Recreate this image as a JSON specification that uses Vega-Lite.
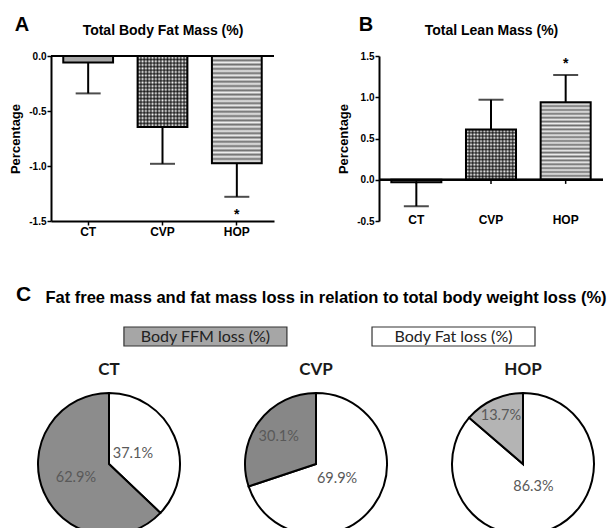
{
"$schema":"https://vega.github.io/schema/vega-lite/v6.json",
"background":"white",
"padding":{"left":9,"top":15,"right":0,"bottom":0},
"config":{
 "view":{"stroke":null},
 "font":"Liberation Sans",
 "axis":{"grid":false,"domainColor":"#000","domainWidth":2,"tickColor":"#000","tickWidth":1.5,"tickSize":4,"labelColor":"#000","labelFont":"Liberation Sans","labelFontWeight":"bold","labelFontSize":10,"labelPadding":1,"titleFont":"Liberation Sans","titleFontWeight":"bold","titleColor":"#000","titleFontSize":13,"labelFlush":false,"labelOverlap":false},
 "title":{"color":"#000","font":"Liberation Sans","fontWeight":"bold"}
},
"datasets":{
 "fat":[{"g":"CT","m":-0.06,"e":-0.34,"sig":""},{"g":"CVP","m":-0.645,"e":-0.98,"sig":""},{"g":"HOP","m":-0.975,"e":-1.28,"sig":"*"}],
 "lean":[{"g":"CT","m":-0.03,"e":-0.32,"sig":""},{"g":"CVP","m":0.61,"e":0.97,"sig":""},{"g":"HOP","m":0.94,"e":1.27,"sig":"*"}],
 "legend":[{"k":"FFM","name":"Body FFM loss (%)"},{"k":"Fat","name":"Body Fat loss (%)"}],
 "pies":[{"g":"CT","part":"Fat","v":37.1,"lab":"37.1%"},{"g":"CT","part":"FFM","v":62.9,"lab":"62.9%"},{"g":"CVP","part":"Fat","v":69.9,"lab":"69.9%"},{"g":"CVP","part":"FFM","v":30.1,"lab":"30.1%"},{"g":"HOP","part":"Fat","v":86.3,"lab":"86.3%"},{"g":"HOP","part":"FFM","v":13.7,"lab":"13.7%"}]
},
"resolve":{"scale":{"x":"independent","y":"independent","fill":"independent","theta":"independent","radius":"independent"}},
"spacing":47,
"vconcat":[
{"hconcat":[
 {"width":223,"height":165,"data":{"name":"fat"},
  "title":{"text":"A","anchor":"start","frame":"bounds","fontSize":20,"dx":5,"dy":16},
  "resolve":{"axis":{"x":"independent"}},
  "layer":[
   {"mark":{"type":"bar","fill":"#a8a8a8","stroke":"#000","strokeWidth":2},"transform":[{"filter":"datum.g==='CT'"}],
    "encoding":{"x":{"field":"g","type":"nominal","sort":["CT","CVP","HOP"],"scale":{"paddingInner":0.33,"paddingOuter":0.165},"axis":{"title":null,"labelAngle":0,"labelFontSize":12,"labelPadding":1}},
     "y":{"field":"m","type":"quantitative","scale":{"domain":[-1.5,0],"nice":false},"axis":{"title":"Percentage","values":[-1.5,-1,-0.5,0],"labelExpr":"replace(format(datum.value,'.1f'),'\u2212','-')","titlePadding":6}}}},
   {"mark":{"type":"bar","fill":"#ffffff"},"transform":[{"filter":"datum.g==='CVP'"}],
    "encoding":{"x":{"field":"g","type":"nominal","sort":["CT","CVP","HOP"],"axis":null},"y":{"field":"m","type":"quantitative"}}},
   {"mark":{"type":"bar","fill":{"gradient":"linear","x1":0,"y1":0,"x2":0,"y2":1,"stops":[{"offset":0,"color":"rgba(0,0,0,0.7)"},{"offset":0.025,"color":"rgba(0,0,0,0)"},{"offset":0.05,"color":"rgba(0,0,0,0.7)"},{"offset":0.075,"color":"rgba(0,0,0,0)"},{"offset":0.1,"color":"rgba(0,0,0,0.7)"},{"offset":0.125,"color":"rgba(0,0,0,0)"},{"offset":0.15,"color":"rgba(0,0,0,0.7)"},{"offset":0.175,"color":"rgba(0,0,0,0)"},{"offset":0.2,"color":"rgba(0,0,0,0.7)"},{"offset":0.225,"color":"rgba(0,0,0,0)"},{"offset":0.25,"color":"rgba(0,0,0,0.7)"},{"offset":0.275,"color":"rgba(0,0,0,0)"},{"offset":0.3,"color":"rgba(0,0,0,0.7)"},{"offset":0.325,"color":"rgba(0,0,0,0)"},{"offset":0.35,"color":"rgba(0,0,0,0.7)"},{"offset":0.375,"color":"rgba(0,0,0,0)"},{"offset":0.4,"color":"rgba(0,0,0,0.7)"},{"offset":0.425,"color":"rgba(0,0,0,0)"},{"offset":0.45,"color":"rgba(0,0,0,0.7)"},{"offset":0.475,"color":"rgba(0,0,0,0)"},{"offset":0.5,"color":"rgba(0,0,0,0.7)"},{"offset":0.525,"color":"rgba(0,0,0,0)"},{"offset":0.55,"color":"rgba(0,0,0,0.7)"},{"offset":0.575,"color":"rgba(0,0,0,0)"},{"offset":0.6,"color":"rgba(0,0,0,0.7)"},{"offset":0.625,"color":"rgba(0,0,0,0)"},{"offset":0.65,"color":"rgba(0,0,0,0.7)"},{"offset":0.675,"color":"rgba(0,0,0,0)"},{"offset":0.7,"color":"rgba(0,0,0,0.7)"},{"offset":0.725,"color":"rgba(0,0,0,0)"},{"offset":0.75,"color":"rgba(0,0,0,0.7)"},{"offset":0.775,"color":"rgba(0,0,0,0)"},{"offset":0.8,"color":"rgba(0,0,0,0.7)"},{"offset":0.825,"color":"rgba(0,0,0,0)"},{"offset":0.85,"color":"rgba(0,0,0,0.7)"},{"offset":0.875,"color":"rgba(0,0,0,0)"},{"offset":0.9,"color":"rgba(0,0,0,0.7)"},{"offset":0.925,"color":"rgba(0,0,0,0)"},{"offset":0.95,"color":"rgba(0,0,0,0.7)"},{"offset":0.975,"color":"rgba(0,0,0,0)"},{"offset":1,"color":"rgba(0,0,0,0.7)"}]}},
    "transform":[{"filter":"datum.g==='CVP'"}],
    "encoding":{"x":{"field":"g","type":"nominal","sort":["CT","CVP","HOP"],"axis":null},"y":{"field":"m","type":"quantitative"}}},
   {"mark":{"type":"bar","stroke":"#000","strokeWidth":2,"fill":{"gradient":"linear","x1":0,"y1":0,"x2":1,"y2":0,"stops":[{"offset":0,"color":"rgba(0,0,0,0.7)"},{"offset":0.0333,"color":"rgba(0,0,0,0)"},{"offset":0.0667,"color":"rgba(0,0,0,0.7)"},{"offset":0.1,"color":"rgba(0,0,0,0)"},{"offset":0.1333,"color":"rgba(0,0,0,0.7)"},{"offset":0.1667,"color":"rgba(0,0,0,0)"},{"offset":0.2,"color":"rgba(0,0,0,0.7)"},{"offset":0.2333,"color":"rgba(0,0,0,0)"},{"offset":0.2667,"color":"rgba(0,0,0,0.7)"},{"offset":0.3,"color":"rgba(0,0,0,0)"},{"offset":0.3333,"color":"rgba(0,0,0,0.7)"},{"offset":0.3667,"color":"rgba(0,0,0,0)"},{"offset":0.4,"color":"rgba(0,0,0,0.7)"},{"offset":0.4333,"color":"rgba(0,0,0,0)"},{"offset":0.4667,"color":"rgba(0,0,0,0.7)"},{"offset":0.5,"color":"rgba(0,0,0,0)"},{"offset":0.5333,"color":"rgba(0,0,0,0.7)"},{"offset":0.5667,"color":"rgba(0,0,0,0)"},{"offset":0.6,"color":"rgba(0,0,0,0.7)"},{"offset":0.6333,"color":"rgba(0,0,0,0)"},{"offset":0.6667,"color":"rgba(0,0,0,0.7)"},{"offset":0.7,"color":"rgba(0,0,0,0)"},{"offset":0.7333,"color":"rgba(0,0,0,0.7)"},{"offset":0.7667,"color":"rgba(0,0,0,0)"},{"offset":0.8,"color":"rgba(0,0,0,0.7)"},{"offset":0.8333,"color":"rgba(0,0,0,0)"},{"offset":0.8667,"color":"rgba(0,0,0,0.7)"},{"offset":0.9,"color":"rgba(0,0,0,0)"},{"offset":0.9333,"color":"rgba(0,0,0,0.7)"},{"offset":0.9667,"color":"rgba(0,0,0,0)"},{"offset":1,"color":"rgba(0,0,0,0.7)"}]}},
    "transform":[{"filter":"datum.g==='CVP'"}],
    "encoding":{"x":{"field":"g","type":"nominal","sort":["CT","CVP","HOP"],"axis":null},"y":{"field":"m","type":"quantitative"}}},
   {"mark":{"type":"bar","stroke":"#000","strokeWidth":2,"fill":{"gradient":"linear","x1":0,"y1":0,"x2":0,"y2":1,"stops":[{"offset":0,"color":"#6e6e6e"},{"offset":0.02,"color":"#eeeeee"},{"offset":0.04,"color":"#6e6e6e"},{"offset":0.06,"color":"#eeeeee"},{"offset":0.08,"color":"#6e6e6e"},{"offset":0.1,"color":"#eeeeee"},{"offset":0.12,"color":"#6e6e6e"},{"offset":0.14,"color":"#eeeeee"},{"offset":0.16,"color":"#6e6e6e"},{"offset":0.18,"color":"#eeeeee"},{"offset":0.2,"color":"#6e6e6e"},{"offset":0.22,"color":"#eeeeee"},{"offset":0.24,"color":"#6e6e6e"},{"offset":0.26,"color":"#eeeeee"},{"offset":0.28,"color":"#6e6e6e"},{"offset":0.3,"color":"#eeeeee"},{"offset":0.32,"color":"#6e6e6e"},{"offset":0.34,"color":"#eeeeee"},{"offset":0.36,"color":"#6e6e6e"},{"offset":0.38,"color":"#eeeeee"},{"offset":0.4,"color":"#6e6e6e"},{"offset":0.42,"color":"#eeeeee"},{"offset":0.44,"color":"#6e6e6e"},{"offset":0.46,"color":"#eeeeee"},{"offset":0.48,"color":"#6e6e6e"},{"offset":0.5,"color":"#eeeeee"},{"offset":0.52,"color":"#6e6e6e"},{"offset":0.54,"color":"#eeeeee"},{"offset":0.56,"color":"#6e6e6e"},{"offset":0.58,"color":"#eeeeee"},{"offset":0.6,"color":"#6e6e6e"},{"offset":0.62,"color":"#eeeeee"},{"offset":0.64,"color":"#6e6e6e"},{"offset":0.66,"color":"#eeeeee"},{"offset":0.68,"color":"#6e6e6e"},{"offset":0.7,"color":"#eeeeee"},{"offset":0.72,"color":"#6e6e6e"},{"offset":0.74,"color":"#eeeeee"},{"offset":0.76,"color":"#6e6e6e"},{"offset":0.78,"color":"#eeeeee"},{"offset":0.8,"color":"#6e6e6e"},{"offset":0.82,"color":"#eeeeee"},{"offset":0.84,"color":"#6e6e6e"},{"offset":0.86,"color":"#eeeeee"},{"offset":0.88,"color":"#6e6e6e"},{"offset":0.9,"color":"#eeeeee"},{"offset":0.92,"color":"#6e6e6e"},{"offset":0.94,"color":"#eeeeee"},{"offset":0.96,"color":"#6e6e6e"},{"offset":0.98,"color":"#eeeeee"},{"offset":1,"color":"#6e6e6e"}]}},
    "transform":[{"filter":"datum.g==='HOP'"}],
    "encoding":{"x":{"field":"g","type":"nominal","sort":["CT","CVP","HOP"],"axis":null},"y":{"field":"m","type":"quantitative"}}},
   {"mark":{"type":"rule","color":"#000","strokeWidth":2},
    "encoding":{"x":{"field":"g","type":"nominal","sort":["CT","CVP","HOP"],"axis":{"orient":"top","title":"Total Body Fat Mass (%)","labels":false,"ticks":false,"domain":false,"titleFontSize":14,"titlePadding":19}},"y":{"field":"m","type":"quantitative"},"y2":{"field":"e"}}},
   {"mark":{"type":"tick","orient":"horizontal","color":"#000","thickness":2,"size":25},
    "encoding":{"x":{"field":"g","type":"nominal","sort":["CT","CVP","HOP"],"axis":null},"y":{"field":"e","type":"quantitative"}}},
   {"mark":{"type":"text","font":"Liberation Sans","fontWeight":"bold","fontSize":14,"baseline":"alphabetic","dy":22,"color":"#000"},
    "encoding":{"x":{"field":"g","type":"nominal","sort":["CT","CVP","HOP"],"axis":null},"y":{"field":"e","type":"quantitative"},"text":{"field":"sig"}}},
   {"mark":{"type":"rule","color":"#000","strokeWidth":2},"encoding":{"y":{"datum":0,"type":"quantitative"}}}
  ]},
 {"width":224,"height":165,"data":{"name":"lean"},
  "title":{"text":"B","anchor":"start","frame":"bounds","fontSize":20,"dx":21,"dy":16},
  "resolve":{"axis":{"x":"independent"}},
  "layer":[
   {"mark":{"type":"bar","fill":"#a8a8a8","stroke":"#000","strokeWidth":2},"transform":[{"filter":"datum.g==='CT'"}],
    "encoding":{"x":{"field":"g","type":"nominal","sort":["CT","CVP","HOP"],"scale":{"paddingInner":0.33,"paddingOuter":0.165},"axis":{"title":null,"labelAngle":0,"labelFontSize":12,"domain":false,"ticks":false,"tickSize":0,"labelPadding":-7}},
     "y":{"field":"m","type":"quantitative","scale":{"domain":[-0.5,1.5],"nice":false},"axis":{"title":"Percentage","values":[-0.5,0,0.5,1,1.5],"labelExpr":"replace(format(datum.value,'.1f'),'\u2212','-')","titlePadding":6}}}},
   {"mark":{"type":"bar","fill":"#ffffff"},"transform":[{"filter":"datum.g==='CVP'"}],
    "encoding":{"x":{"field":"g","type":"nominal","sort":["CT","CVP","HOP"],"axis":null},"y":{"field":"m","type":"quantitative"}}},
   {"mark":{"type":"bar","fill":{"gradient":"linear","x1":0,"y1":0,"x2":0,"y2":1,"stops":[{"offset":0,"color":"rgba(0,0,0,0.7)"},{"offset":0.0333,"color":"rgba(0,0,0,0)"},{"offset":0.0667,"color":"rgba(0,0,0,0.7)"},{"offset":0.1,"color":"rgba(0,0,0,0)"},{"offset":0.1333,"color":"rgba(0,0,0,0.7)"},{"offset":0.1667,"color":"rgba(0,0,0,0)"},{"offset":0.2,"color":"rgba(0,0,0,0.7)"},{"offset":0.2333,"color":"rgba(0,0,0,0)"},{"offset":0.2667,"color":"rgba(0,0,0,0.7)"},{"offset":0.3,"color":"rgba(0,0,0,0)"},{"offset":0.3333,"color":"rgba(0,0,0,0.7)"},{"offset":0.3667,"color":"rgba(0,0,0,0)"},{"offset":0.4,"color":"rgba(0,0,0,0.7)"},{"offset":0.4333,"color":"rgba(0,0,0,0)"},{"offset":0.4667,"color":"rgba(0,0,0,0.7)"},{"offset":0.5,"color":"rgba(0,0,0,0)"},{"offset":0.5333,"color":"rgba(0,0,0,0.7)"},{"offset":0.5667,"color":"rgba(0,0,0,0)"},{"offset":0.6,"color":"rgba(0,0,0,0.7)"},{"offset":0.6333,"color":"rgba(0,0,0,0)"},{"offset":0.6667,"color":"rgba(0,0,0,0.7)"},{"offset":0.7,"color":"rgba(0,0,0,0)"},{"offset":0.7333,"color":"rgba(0,0,0,0.7)"},{"offset":0.7667,"color":"rgba(0,0,0,0)"},{"offset":0.8,"color":"rgba(0,0,0,0.7)"},{"offset":0.8333,"color":"rgba(0,0,0,0)"},{"offset":0.8667,"color":"rgba(0,0,0,0.7)"},{"offset":0.9,"color":"rgba(0,0,0,0)"},{"offset":0.9333,"color":"rgba(0,0,0,0.7)"},{"offset":0.9667,"color":"rgba(0,0,0,0)"},{"offset":1,"color":"rgba(0,0,0,0.7)"}]}},
    "transform":[{"filter":"datum.g==='CVP'"}],
    "encoding":{"x":{"field":"g","type":"nominal","sort":["CT","CVP","HOP"],"axis":null},"y":{"field":"m","type":"quantitative"}}},
   {"mark":{"type":"bar","stroke":"#000","strokeWidth":2,"fill":{"gradient":"linear","x1":0,"y1":0,"x2":1,"y2":0,"stops":[{"offset":0,"color":"rgba(0,0,0,0.7)"},{"offset":0.0333,"color":"rgba(0,0,0,0)"},{"offset":0.0667,"color":"rgba(0,0,0,0.7)"},{"offset":0.1,"color":"rgba(0,0,0,0)"},{"offset":0.1333,"color":"rgba(0,0,0,0.7)"},{"offset":0.1667,"color":"rgba(0,0,0,0)"},{"offset":0.2,"color":"rgba(0,0,0,0.7)"},{"offset":0.2333,"color":"rgba(0,0,0,0)"},{"offset":0.2667,"color":"rgba(0,0,0,0.7)"},{"offset":0.3,"color":"rgba(0,0,0,0)"},{"offset":0.3333,"color":"rgba(0,0,0,0.7)"},{"offset":0.3667,"color":"rgba(0,0,0,0)"},{"offset":0.4,"color":"rgba(0,0,0,0.7)"},{"offset":0.4333,"color":"rgba(0,0,0,0)"},{"offset":0.4667,"color":"rgba(0,0,0,0.7)"},{"offset":0.5,"color":"rgba(0,0,0,0)"},{"offset":0.5333,"color":"rgba(0,0,0,0.7)"},{"offset":0.5667,"color":"rgba(0,0,0,0)"},{"offset":0.6,"color":"rgba(0,0,0,0.7)"},{"offset":0.6333,"color":"rgba(0,0,0,0)"},{"offset":0.6667,"color":"rgba(0,0,0,0.7)"},{"offset":0.7,"color":"rgba(0,0,0,0)"},{"offset":0.7333,"color":"rgba(0,0,0,0.7)"},{"offset":0.7667,"color":"rgba(0,0,0,0)"},{"offset":0.8,"color":"rgba(0,0,0,0.7)"},{"offset":0.8333,"color":"rgba(0,0,0,0)"},{"offset":0.8667,"color":"rgba(0,0,0,0.7)"},{"offset":0.9,"color":"rgba(0,0,0,0)"},{"offset":0.9333,"color":"rgba(0,0,0,0.7)"},{"offset":0.9667,"color":"rgba(0,0,0,0)"},{"offset":1,"color":"rgba(0,0,0,0.7)"}]}},
    "transform":[{"filter":"datum.g==='CVP'"}],
    "encoding":{"x":{"field":"g","type":"nominal","sort":["CT","CVP","HOP"],"axis":null},"y":{"field":"m","type":"quantitative"}}},
   {"mark":{"type":"bar","stroke":"#000","strokeWidth":2,"fill":{"gradient":"linear","x1":0,"y1":0,"x2":0,"y2":1,"stops":[{"offset":0,"color":"#6e6e6e"},{"offset":0.025,"color":"#eeeeee"},{"offset":0.05,"color":"#6e6e6e"},{"offset":0.075,"color":"#eeeeee"},{"offset":0.1,"color":"#6e6e6e"},{"offset":0.125,"color":"#eeeeee"},{"offset":0.15,"color":"#6e6e6e"},{"offset":0.175,"color":"#eeeeee"},{"offset":0.2,"color":"#6e6e6e"},{"offset":0.225,"color":"#eeeeee"},{"offset":0.25,"color":"#6e6e6e"},{"offset":0.275,"color":"#eeeeee"},{"offset":0.3,"color":"#6e6e6e"},{"offset":0.325,"color":"#eeeeee"},{"offset":0.35,"color":"#6e6e6e"},{"offset":0.375,"color":"#eeeeee"},{"offset":0.4,"color":"#6e6e6e"},{"offset":0.425,"color":"#eeeeee"},{"offset":0.45,"color":"#6e6e6e"},{"offset":0.475,"color":"#eeeeee"},{"offset":0.5,"color":"#6e6e6e"},{"offset":0.525,"color":"#eeeeee"},{"offset":0.55,"color":"#6e6e6e"},{"offset":0.575,"color":"#eeeeee"},{"offset":0.6,"color":"#6e6e6e"},{"offset":0.625,"color":"#eeeeee"},{"offset":0.65,"color":"#6e6e6e"},{"offset":0.675,"color":"#eeeeee"},{"offset":0.7,"color":"#6e6e6e"},{"offset":0.725,"color":"#eeeeee"},{"offset":0.75,"color":"#6e6e6e"},{"offset":0.775,"color":"#eeeeee"},{"offset":0.8,"color":"#6e6e6e"},{"offset":0.825,"color":"#eeeeee"},{"offset":0.85,"color":"#6e6e6e"},{"offset":0.875,"color":"#eeeeee"},{"offset":0.9,"color":"#6e6e6e"},{"offset":0.925,"color":"#eeeeee"},{"offset":0.95,"color":"#6e6e6e"},{"offset":0.975,"color":"#eeeeee"},{"offset":1,"color":"#6e6e6e"}]}},
    "transform":[{"filter":"datum.g==='HOP'"}],
    "encoding":{"x":{"field":"g","type":"nominal","sort":["CT","CVP","HOP"],"axis":null},"y":{"field":"m","type":"quantitative"}}},
   {"mark":{"type":"rule","color":"#000","strokeWidth":2},
    "encoding":{"x":{"field":"g","type":"nominal","sort":["CT","CVP","HOP"],"axis":{"orient":"top","title":"Total Lean Mass (%)","labels":false,"ticks":false,"domain":false,"titleFontSize":14,"titlePadding":19}},"y":{"field":"m","type":"quantitative"},"y2":{"field":"e"}}},
   {"mark":{"type":"tick","orient":"horizontal","color":"#000","thickness":2,"size":25},
    "encoding":{"x":{"field":"g","type":"nominal","sort":["CT","CVP","HOP"],"axis":null},"y":{"field":"e","type":"quantitative"}}},
   {"mark":{"type":"text","font":"Liberation Sans","fontWeight":"bold","fontSize":14,"baseline":"alphabetic","dy":-7,"color":"#000"},
    "encoding":{"x":{"field":"g","type":"nominal","sort":["CT","CVP","HOP"],"axis":null},"y":{"field":"e","type":"quantitative"},"text":{"field":"sig"}}},
   {"mark":{"type":"rule","color":"#000","strokeWidth":2},"encoding":{"y":{"datum":0,"type":"quantitative"}}},
   {"mark":{"type":"rule","color":"#000","strokeWidth":1.5},
    "encoding":{"x":{"field":"g","type":"nominal","sort":["CT","CVP","HOP"],"axis":null},"y":{"datum":0,"type":"quantitative"},"y2":{"datum":-0.05}}}
  ]}
 ],
 "spacing":62,
 "resolve":{"scale":{"x":"independent","y":"independent","fill":"independent"}}
},
{"vconcat":[
 {"width":484,"height":19,"data":{"name":"legend"},
  "title":{"text":"C","anchor":"start","frame":"group","fontSize":21,"dx":-35,"dy":20},
  "layer":[
   {"mark":{"type":"bar","stroke":"#333333","strokeWidth":1.2},
    "encoding":{"x":{"field":"k","type":"nominal","sort":["FFM","Fat"],"scale":{"paddingInner":0.343,"paddingOuter":0.147,"align":1},"axis":{"orient":"top","title":"Fat free mass and fat mass loss in relation to total body weight loss (%)","labels":false,"ticks":false,"domain":false,"titleFontSize":16.5,"titlePadding":22,"titleX":274.5}},
     "fill":{"field":"k","type":"nominal","scale":{"domain":["FFM","Fat"],"range":["#a6a6a6","#ffffff"]},"legend":null}}},
   {"mark":{"type":"text","font":"Lato","fontSize":16,"color":"#222222"},
    "encoding":{"x":{"field":"k","type":"nominal","sort":["FFM","Fat"]},"text":{"field":"name"}}}
  ]},
 {"hconcat":[
  {"width":116,"height":142,"data":{"name":"pies"},"transform":[{"filter":"datum.g==='CT'"}],
   "title":{"text":"CT","font":"Lato","fontSize":17,"fontWeight":"bold","color":"#1a1a1a","offset":10},
   "encoding":{"theta":{"field":"v","type":"quantitative","stack":true},"order":{"field":"part","sort":"descending"}},
   "layer":[
    {"mark":{"type":"arc","outerRadius":71,"stroke":"#000","strokeWidth":2},"encoding":{"fill":{"field":"part","type":"nominal","scale":{"domain":["FFM","Fat"],"range":["#8c8c8c","#ffffff"]},"legend":null}}},
    {"mark":{"type":"text","font":"Lato","fontSize":14.5,"fill":"#595959"},"encoding":{"detail":{"field":"part"},"text":{"field":"lab"},"radius":{"field":"v","type":"quantitative","scale":{"type":"linear","domain":[37.1,62.9],"range":[26,36],"zero":false}}}}
   ]},
  {"width":116,"height":142,"data":{"name":"pies"},"transform":[{"filter":"datum.g==='CVP'"}],
   "title":{"text":"CVP","font":"Lato","fontSize":17,"fontWeight":"bold","color":"#1a1a1a","offset":10},
   "encoding":{"theta":{"field":"v","type":"quantitative","stack":true},"order":{"field":"part","sort":"descending"}},
   "layer":[
    {"mark":{"type":"arc","outerRadius":71,"stroke":"#000","strokeWidth":2},"encoding":{"fill":{"field":"part","type":"nominal","scale":{"domain":["FFM","Fat"],"range":["#878787","#ffffff"]},"legend":null}}},
    {"mark":{"type":"text","font":"Lato","fontSize":14.5,"fill":"#595959"},"encoding":{"detail":{"field":"part"},"text":{"field":"lab"},"radius":{"field":"v","type":"quantitative","scale":{"type":"linear","domain":[30.1,69.9],"range":[46,26],"zero":false}}}}
   ]},
  {"width":116,"height":142,"data":{"name":"pies"},"transform":[{"filter":"datum.g==='HOP'"}],
   "title":{"text":"HOP","font":"Lato","fontSize":17,"fontWeight":"bold","color":"#1a1a1a","offset":10},
   "encoding":{"theta":{"field":"v","type":"quantitative","stack":true},"order":{"field":"part","sort":"descending"}},
   "layer":[
    {"mark":{"type":"arc","outerRadius":71,"stroke":"#000","strokeWidth":2},"encoding":{"fill":{"field":"part","type":"nominal","scale":{"domain":["FFM","Fat"],"range":["#b4b4b4","#ffffff"]},"legend":null}}},
    {"mark":{"type":"text","font":"Lato","fontSize":14.5,"fill":"#595959"},"encoding":{"detail":{"field":"part"},"text":{"field":"lab"},"radius":{"field":"v","type":"quantitative","scale":{"type":"linear","domain":[13.7,86.3],"range":[53,25],"zero":false}}}}
   ]}
  ],
  "spacing":91,
  "bounds":"flush",
  "resolve":{"scale":{"fill":"independent","theta":"independent","radius":"independent"}}
 }
 ],
 "spacing":14,
 "resolve":{"scale":{"x":"independent","y":"independent","fill":"independent","theta":"independent","radius":"independent"}}
}
]
}
